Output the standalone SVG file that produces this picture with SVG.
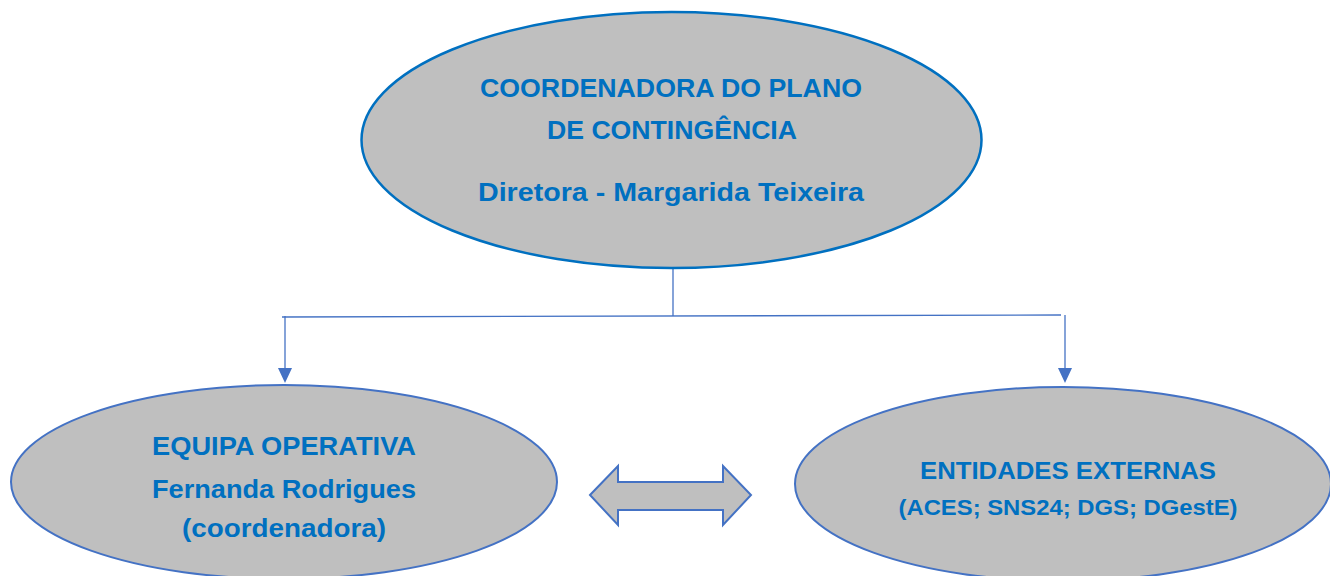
<svg xmlns="http://www.w3.org/2000/svg" width="1330" height="576" viewBox="0 0 1330 576">
<defs>
<style>
.node{fill:#BFBFBF;}
.top{stroke:#0070C0;stroke-width:2.5;}
.bot{stroke:#4472C4;stroke-width:2;}
.t{font-family:"Liberation Sans",Arial,sans-serif;font-weight:bold;fill:#0070C0;text-anchor:middle;}
.conn{stroke:#4472C4;stroke-width:1.3;fill:none;}
.head{fill:#4472C4;}
</style>
</defs>
<rect width="1330" height="576" fill="#FFFFFF"/>
<g id="connectors">
<line class="conn" x1="673" y1="268" x2="673" y2="316"/>
<line class="conn" x1="282" y1="317" x2="1061" y2="315"/>
<path class="conn" d="M285,316 L285,368"/>
<path class="head" d="M278,368 L292,368 L285,383 Z"/>
<path class="conn" d="M1065,315 L1065,368"/>
<path class="head" d="M1058,368 L1072,368 L1065,383 Z"/>
<path id="double-arrow" d="M590,495 L618,466 L618,482 L723,482 L723,466 L751,495 L723,525 L723,510 L618,510 L618,525 Z" fill="#BFBFBF" stroke="#4472C4" stroke-width="2" stroke-linejoin="miter"/>
</g>
<g id="coordenadora">
<ellipse class="node top" cx="671.5" cy="140" rx="310" ry="128"/>
<text class="t" x="671" y="97" font-size="26" textLength="382" lengthAdjust="spacingAndGlyphs">COORDENADORA DO PLANO</text>
<text class="t" x="672" y="139" font-size="26" textLength="250" lengthAdjust="spacingAndGlyphs">DE CONTINGÊNCIA</text>
<text class="t" x="671" y="201" font-size="26" textLength="386" lengthAdjust="spacingAndGlyphs">Diretora - Margarida Teixeira</text>
</g>
<g id="equipa-operativa">
<ellipse class="node bot" cx="284" cy="482" rx="273" ry="97"/>
<text class="t" x="284" y="455" font-size="26" textLength="264" lengthAdjust="spacingAndGlyphs">EQUIPA OPERATIVA</text>
<text class="t" x="284" y="498" font-size="26" textLength="264" lengthAdjust="spacingAndGlyphs">Fernanda Rodrigues</text>
<text class="t" x="284" y="537" font-size="26" textLength="204" lengthAdjust="spacingAndGlyphs">(coordenadora)</text>
</g>
<g id="entidades-externas">
<ellipse class="node bot" cx="1063" cy="484" rx="268" ry="97"/>
<text class="t" x="1068" y="479" font-size="24" textLength="296" lengthAdjust="spacingAndGlyphs">ENTIDADES EXTERNAS</text>
<text class="t" x="1068" y="515" font-size="22" textLength="339" lengthAdjust="spacingAndGlyphs">(ACES; SNS24; DGS; DGestE)</text>
</g>
</svg>
